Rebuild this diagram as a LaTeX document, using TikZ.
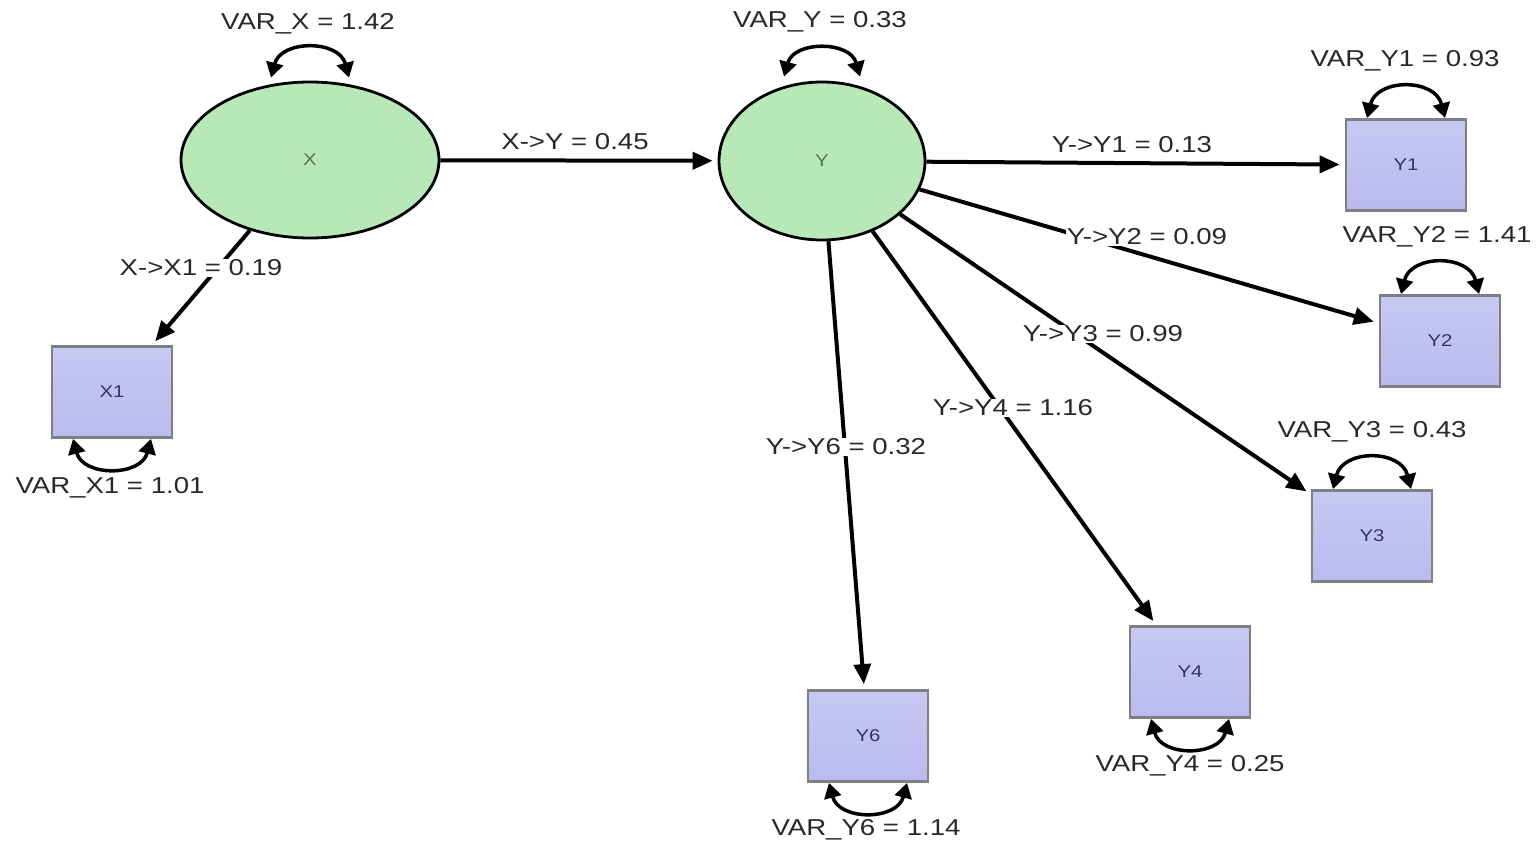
\documentclass[tikz,border=0pt]{standalone}
\usepackage{graphicx}
\usepackage{fontspec}
\setmainfont{Liberation Sans}
\usetikzlibrary{arrows.meta,shapes.geometric}

\definecolor{latfill}{RGB}{184,232,184}
\definecolor{lattext}{RGB}{80,120,80}
\definecolor{boxtop}{RGB}{200,200,244}
\definecolor{boxbot}{RGB}{186,186,238}
\definecolor{boxedge}{RGB}{128,128,128}
\definecolor{boxtext}{RGB}{50,50,110}
\definecolor{labtext}{RGB}{40,40,40}

% labels are set slightly wide
\newcommand{\wide}[1]{\scalebox{1.2}[1]{#1}}

\begin{document}
\begin{tikzpicture}[x=1pt,y=-1pt,
  latent/.style={ellipse, draw=black, line width=2.8pt, fill=latfill,
    minimum width=258pt, minimum height=156pt, inner sep=0pt,
    font=\fontsize{17}{17}\selectfont, text=lattext},
  observed/.style={rectangle, draw=boxedge, line width=2.8pt,
    top color=boxtop, bottom color=boxbot,
    minimum width=120pt, minimum height=91pt, inner sep=0pt,
    font=\fontsize{17}{17}\selectfont, text=boxtext},
  effect/.style={line width=4pt, -{Triangle[length=20pt,width=17pt]}, shorten >=5pt},
  varloop/.style={line width=3.5pt,
    {Triangle[length=15pt,width=17pt]}-{Triangle[length=15pt,width=17pt]}},
  coef/.style={font=\fontsize{23}{23}\selectfont, text=labtext, fill=white,
    inner sep=1pt}]

\useasboundingbox (0,0) rectangle (1538,845);

% latent variables
\node[latent] (X) at (310,160) {\wide{X}};
\node[latent, minimum width=206pt, minimum height=158pt] (Y) at (822,161) {\wide{Y}};

% observed indicators
\node[observed] (X1) at (112,392) {\wide{X1}};
\node[observed] (Y1) at (1406,165) {\wide{Y1}};
\node[observed] (Y2) at (1440,341) {\wide{Y2}};
\node[observed] (Y3) at (1372,536) {\wide{Y3}};
\node[observed] (Y4) at (1190,672) {\wide{Y4}};
\node[observed] (Y6) at (868,736) {\wide{Y6}};

% structural and measurement paths
\draw[effect] (X) -- (Y);
\draw[effect] (X) -- (X1);
\draw[effect] (Y) -- (Y1);
\draw[effect] (Y) -- (Y2);
\draw[effect] (Y) -- (Y3);
\draw[effect] (Y) -- (Y4);
\draw[effect] (Y) -- (Y6);

% variance loops
\draw[varloop] ([xshift=-39pt,yshift=3pt]X.north) .. controls +(10,-38) and +(-10,-38) .. ([xshift=39pt,yshift=3pt]X.north);
\draw[varloop] ([xshift=-38pt,yshift=4pt]Y.north) .. controls +(10,-36) and +(-10,-36) .. ([xshift=38pt,yshift=4pt]Y.north);
\draw[varloop] ([xshift=-39pt]Y1.north) .. controls +(10,-40) and +(-10,-40) .. ([xshift=39pt]Y1.north);
\draw[varloop] ([xshift=-39pt]Y2.north) .. controls +(10,-40) and +(-10,-40) .. ([xshift=39pt]Y2.north);
\draw[varloop] ([xshift=-39pt]Y3.north) .. controls +(10,-40) and +(-10,-40) .. ([xshift=39pt]Y3.north);
\draw[varloop] ([xshift=-39pt]X1.south) .. controls +(10,38) and +(-10,38) .. ([xshift=39pt]X1.south);
\draw[varloop] ([xshift=-39pt]Y4.south) .. controls +(10,38) and +(-10,38) .. ([xshift=39pt]Y4.south);
\draw[varloop] ([xshift=-39pt]Y6.south) .. controls +(10,38) and +(-10,38) .. ([xshift=39pt]Y6.south);

% path coefficients
\node[coef] (cXY)  at (575,142) {\wide{X->Y = 0.45}};
\node[coef] (cXX1) at (201,268) {\wide{X->X1 = 0.19}};
\node[coef] (cY1)  at (1132,145) {\wide{Y->Y1 = 0.13}};
\node[coef] (cY2)  at (1147,237) {\wide{Y->Y2 = 0.09}};
\node[coef] (cY3)  at (1103,334) {\wide{Y->Y3 = 0.99}};
\node[coef] (cY4)  at (1013,408) {\wide{Y->Y4 = 1.16}};
\node[coef] (cY6)  at (846,447) {\wide{Y->Y6 = 0.32}};

% variances
\node[coef] (vX)  at (308,24)  {\wide{VAR\_X = 1.42}};
\node[coef] (vY)  at (820,22)  {\wide{VAR\_Y = 0.33}};
\node[coef] (vY1) at (1405,61) {\wide{VAR\_Y1 = 0.93}};
\node[coef] (vY2) at (1437,237) {\wide{VAR\_Y2 = 1.41}};
\node[coef] (vY3) at (1372,432) {\wide{VAR\_Y3 = 0.43}};
\node[coef] (vX1) at (110,488) {\wide{VAR\_X1 = 1.01}};
\node[coef] (vY4) at (1190,766) {\wide{VAR\_Y4 = 0.25}};
\node[coef] (vY6) at (866,830) {\wide{VAR\_Y6 = 1.14}};

\end{tikzpicture}
\end{document}
